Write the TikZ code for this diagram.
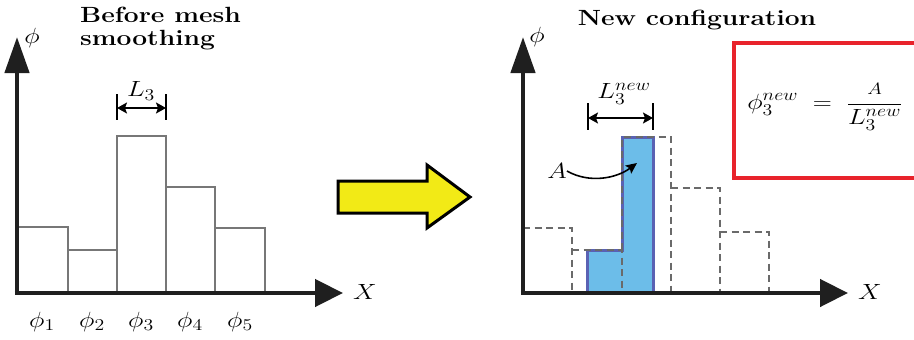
\RequirePackage{fix-cm}
\documentclass[tikz,border=0pt]{standalone}
\usepackage{fontspec}
\setmainfont{Latin Modern Roman}
\usepackage{graphicx}
\usetikzlibrary{arrows.meta}
\DeclareMathSizes{22}{22}{16.5}{13}
\newcommand{\hs}[1]{\scalebox{1.2}[1]{#1}}
\definecolor{barGray}{HTML}{777777}
\definecolor{dashGray}{HTML}{6A6A6A}
\definecolor{cellBlue}{HTML}{6CBDE9}
\definecolor{cellEdge}{HTML}{5A62B3}
\definecolor{boxRed}{HTML}{E8232B}
\definecolor{arrowYellow}{HTML}{F2EA16}
\tikzset{
  axisline/.style={line width=4.5pt, draw={black!88}},
  yaxisarrow/.style={axisline, -{Triangle[length=36pt,width=24pt]}},
  xaxisarrow/.style={axisline, -{Triangle[length=28pt,width=27pt]}},
  oldbar/.style={line width=2.8pt, draw=barGray, line join=miter},
  dashbar/.style={line width=2.6pt, draw=dashGray, dash pattern=on 7pt off 4.5pt},
  newcell/.style={line width=3pt, draw=cellEdge, fill=cellBlue},
  dimtick/.style={line width=2pt, draw=black},
  dimarrow/.style={line width=1.6pt, {Stealth[length=10pt,width=11pt,inset=2pt]}-{Stealth[length=10pt,width=11pt,inset=2pt]}},
  lbl/.style={inner sep=0pt, font=\fontsize{22}{26}\selectfont},
  ttl/.style={inner sep=0pt, font=\fontsize{22}{25}\selectfont\bfseries},
}
\begin{document}
\begin{tikzpicture}[x=1pt,y=-1pt]
\useasboundingbox (0,0) rectangle (914,340);

% ---------------- left panel ----------------
\coordinate (O1) at (17,293);
\coordinate (Y1) at (17,37);
\coordinate (X1) at (343,293);

\draw[oldbar] (17,227) -- (68,227) -- (68,293);
\draw[oldbar] (68,250) -- (117,250) -- (117,293);
\draw[oldbar] (117,250) -- (117,136) -- (166,136) -- (166,293);
\draw[oldbar] (166,187) -- (215,187) -- (215,293);
\draw[oldbar] (215,228) -- (265,228) -- (265,293);

\draw[yaxisarrow] (O1) -- (Y1);
\draw[xaxisarrow] ([xshift=-2.25pt]O1) -- (X1);

\node[lbl] (phiY1) at (32,38) {\hs{$\phi$}};
\node[lbl] (Xlab1) at (365,292) {\hs{$X$}};

\node[ttl, anchor=north west, align=left] (title1) at (80,7) {\hs{Before mesh}\\[-2pt]\hs{smoothing}};

\coordinate (t1a) at (117,94);
\coordinate (t1b) at (117,120);
\coordinate (t2a) at (166,94);
\coordinate (t2b) at (166,120);
\draw[dimtick] (t1a) -- (t1b);
\draw[dimtick] (t2a) -- (t2b);
\coordinate (d1a) at (117,108);
\coordinate (d1b) at (166,108);
\draw[dimarrow] (d1a) -- (d1b);
\node[lbl] (L3) at (141,91) {\hs{$L_3$}};

\node[lbl] (p1) at (42,322) {\hs{$\phi_1$}};
\node[lbl] (p2) at (92,322) {\hs{$\phi_2$}};
\node[lbl] (p3) at (141,322) {\hs{$\phi_3$}};
\node[lbl] (p4) at (190,322) {\hs{$\phi_4$}};
\node[lbl] (p5) at (240,322) {\hs{$\phi_5$}};

% ---------------- transition arrow ----------------
\draw[line width=3pt, fill=arrowYellow, line join=miter]
  (338,181) -- (427,181) -- (427,165) -- (470,197) -- (427,228) -- (427,213) -- (338,213) -- cycle;

% ---------------- right panel ----------------
\coordinate (O2) at (523,293);
\coordinate (Y2) at (523,37);
\coordinate (X2) at (848,293);

\draw[newcell] (587,293) -- (587,250) -- (622,250) -- (622,137) -- (653,137) -- (653,293) -- cycle;

\draw[dashbar] (523,228) -- (572,228) -- (572,293);
\draw[dashbar] (572,250) -- (622,250) -- (622,293);
\draw[dashbar] (622,250) -- (622,137) -- (671,137) -- (671,293);
\draw[dashbar] (671,188) -- (720,188) -- (720,293);
\draw[dashbar] (720,232) -- (769,232) -- (769,293);

\draw[yaxisarrow] (O2) -- (Y2);
\draw[xaxisarrow] ([xshift=-2.25pt]O2) -- (X2);

\node[lbl] (phiY2) at (537,37) {\hs{$\phi$}};
\node[lbl] (Xlab2) at (870,292) {\hs{$X$}};

\node[ttl, anchor=base] (title2) at (697,25) {\hs{New configuration}};

\coordinate (u1a) at (588,103);
\coordinate (u1b) at (588,130);
\coordinate (u2a) at (653,103);
\coordinate (u2b) at (653,130);
\draw[dimtick] (u1a) -- (u1b);
\draw[dimtick] (u2a) -- (u2b);
\coordinate (e1a) at (588,118);
\coordinate (e1b) at (653,118);
\draw[dimarrow] (e1a) -- (e1b);
\node[lbl] (L3new) at (624,94) {\hs{$L_3^{new}$}};

\node[lbl] (Alab) at (557,171) {\hs{$A$}};
\coordinate (Atip) at (637,163);
\draw[line width=1.6pt, -{Stealth[length=11pt,width=10pt,inset=2pt]}]
  (Alab.east) .. controls (590,184) and (617,178) .. (Atip);

\draw[line width=4pt, draw=boxRed] (914,43) -- (734,43) -- (734,178) -- (914,178);
\node[lbl] (formula) at (825,107) {\hs{$\displaystyle \phi_3^{new} \;=\; \frac{\scriptstyle A}{\textstyle L_3^{new}}$}};

\end{tikzpicture}
\end{document}
